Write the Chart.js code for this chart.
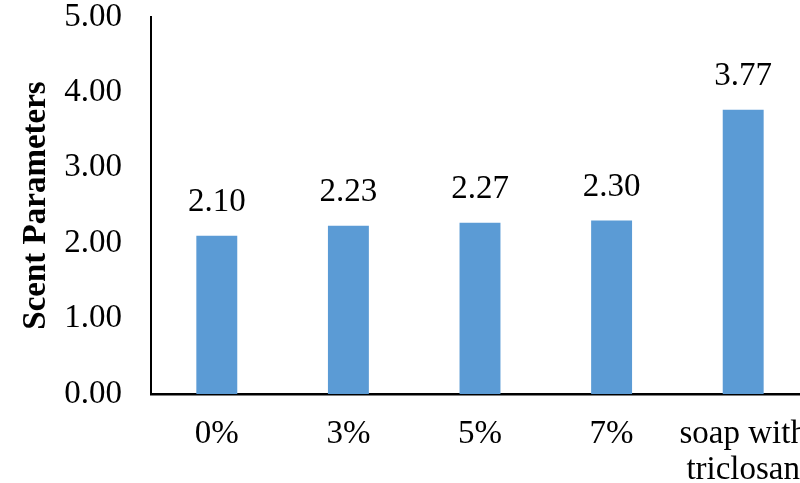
<!DOCTYPE html>
<html lang="en">
<head>
  <meta charset="UTF-8">
  <title>Scent Parameters</title>
  <style>
    html, body {
      margin: 0;
      padding: 0;
      overflow: hidden;
      background: #fff;
    }
    .chart-container {
      width: 840px;
      height: 483px;
    }
  </style>
</head>
<body>
  <div class="chart-container">
    <canvas id="scentChart"></canvas>
  </div>

  <script src="https://cdn.jsdelivr.net/npm/chart.js"></script>
  <script>
    // data
    const categories = ['0%', '3%', '5%', '7%', ['soap with', 'triclosan']];
    const scentValues = [2.10, 2.23, 2.27, 2.30, 3.77];
    const yTicks = [0, 1, 2, 3, 4, 5];

    const serif = '"Liberation Serif", "Times New Roman", serif';

    // value labels above each bar
    const valueLabels = {
      id: 'valueLabels',
      afterDatasetsDraw(chart) {
        const ctx = chart.ctx;
        const meta = chart.getDatasetMeta(0);
        ctx.save();
        ctx.font = '33px ' + serif;
        ctx.fillStyle = '#000';
        ctx.textAlign = 'center';
        ctx.textBaseline = 'alphabetic';
        meta.data.forEach((bar, i) => {
          ctx.fillText(scentValues[i].toFixed(2), bar.x, bar.y - 25);
        });
        ctx.restore();
      }
    };

    const ctx = document.getElementById('scentChart').getContext('2d');
    new Chart(ctx, {
      type: 'bar',
      data: {
        labels: categories,
        datasets: [{
          data: scentValues,
          backgroundColor: '#5B9BD5',
          categoryPercentage: 1,
          barPercentage: 0.311
        }]
      },
      options: {
        responsive: true,
        maintainAspectRatio: false,
        animation: false,
        layout: { padding: { top: 17, right: 31, bottom: 0, left: 0 } },
        plugins: {
          legend: { display: false },
          tooltip: { enabled: false }
        },
        scales: {
          x: {
            grid: { display: false, drawTicks: false },
            border: { display: true, color: '#000', width: 2.5 },
            ticks: {
              color: '#000',
              padding: 22,
              maxRotation: 0,
              autoSkip: false,
              font: { family: serif, size: 33, lineHeight: 1.1 }
            },
            afterFit(scale) { scale.height = 89; }
          },
          y: {
            min: 0,
            max: 5,
            afterBuildTicks(scale) {
              scale.ticks = yTicks.map(v => ({ value: v }));
            },
            grid: { display: false, drawTicks: false },
            border: { display: true, color: '#000', width: 2 },
            ticks: {
              color: '#000',
              padding: 29,
              font: { family: serif, size: 33, lineHeight: 1 },
              callback: v => v.toFixed(2)
            },
            title: {
              display: true,
              text: 'Scent Parameters',
              color: '#000',
              padding: { top: 20, bottom: 0 },
              font: { family: serif, size: 33, weight: 'bold', lineHeight: 1 }
            },
            afterFit(scale) {
              scale.width = 151;
              // tick padding would otherwise push the plot top down
              scale.paddingTop = 16;
              scale.paddingBottom = 0;
            }
          }
        }
      },
      plugins: [valueLabels]
    });
  </script>
</body>
</html>
